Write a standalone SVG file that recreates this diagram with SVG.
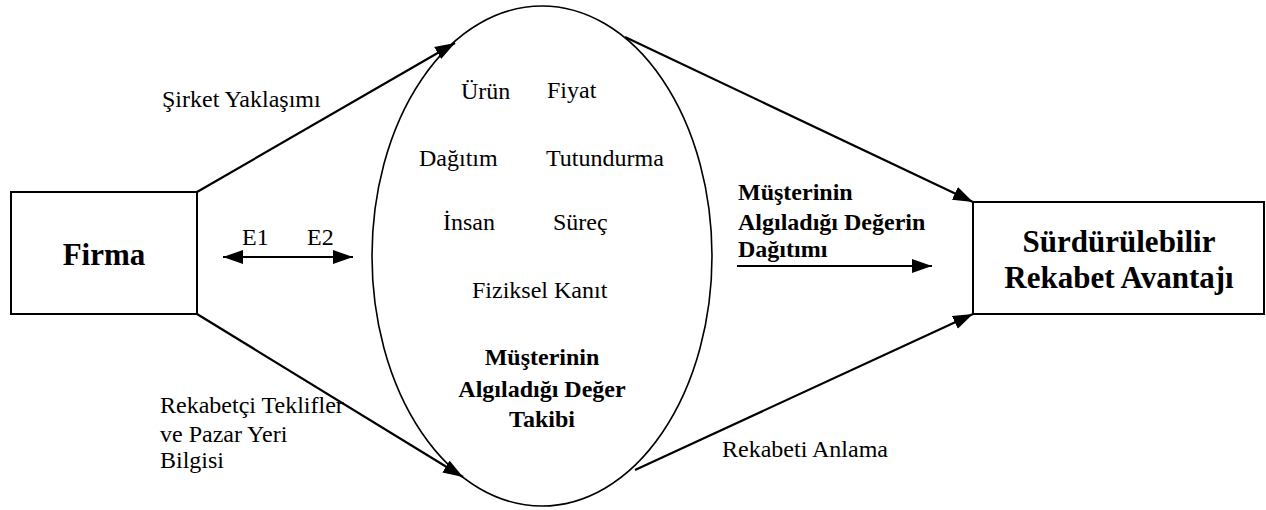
<svg xmlns="http://www.w3.org/2000/svg" width="1266" height="510" viewBox="0 0 1266 510" font-family="Liberation Serif, Times New Roman, serif">
  <style>
    .box { fill: #ffffff; stroke: #000000; stroke-width: 2; }
    .oval { fill: none; stroke: #000000; stroke-width: 1.6; }
    .link { fill: none; stroke: #000000; stroke-width: 2.2; }
    .t { font-size: 24px; fill: #000000; }
    .b { font-weight: bold; }
    .title { font-size: 31px; font-weight: bold; fill: #000000; }
  </style>
  <defs>
    <marker id="head" markerUnits="userSpaceOnUse" markerWidth="22" markerHeight="16" refX="20" refY="7" orient="auto-start-reverse" viewBox="0 0 22 16">
      <path d="M0,0 L20,7 L0,14 z" fill="#000000"/>
    </marker>
  </defs>

  <!-- central marketing-mix ellipse -->
  <g id="mix">
    <ellipse class="oval" cx="542" cy="256" rx="170" ry="250"/>
    <text class="t" x="461" y="99">Ürün</text>
    <text class="t" x="547" y="98">Fiyat</text>
    <text class="t" x="419" y="166">Dağıtım</text>
    <text class="t" x="546" y="166">Tutundurma</text>
    <text class="t" x="443" y="230">İnsan</text>
    <text class="t" x="553" y="230">Süreç</text>
    <text class="t" x="472" y="298">Fiziksel Kanıt</text>
    <text class="t b" text-anchor="middle" x="542" y="365">Müşterinin</text>
    <text class="t b" text-anchor="middle" x="542" y="397">Algıladığı Değer</text>
    <text class="t b" text-anchor="middle" x="542" y="427">Takibi</text>
  </g>

  <!-- firm box -->
  <g id="firma">
    <rect class="box" x="11" y="192" width="186" height="122"/>
    <text class="title" text-anchor="middle" x="104" y="265">Firma</text>
  </g>

  <!-- outcome box -->
  <g id="avantaj">
    <rect class="box" x="973" y="202" width="291" height="112"/>
    <text class="title" text-anchor="middle" x="1119" y="252">Sürdürülebilir</text>
    <text class="title" text-anchor="middle" x="1119" y="288">Rekabet Avantajı</text>
  </g>

  <!-- connectors -->
  <g id="connectors">
    <line class="link" x1="197" y1="192" x2="455" y2="43" marker-end="url(#head)"/>
    <line class="link" x1="197" y1="314" x2="463" y2="477" marker-end="url(#head)"/>
    <line class="link" x1="625" y1="37" x2="973" y2="202" marker-end="url(#head)"/>
    <line class="link" x1="635" y1="470" x2="973" y2="314" marker-end="url(#head)"/>
    <line class="link" x1="737" y1="266" x2="932" y2="266" marker-end="url(#head)"/>
    <line class="link" x1="223" y1="257" x2="353" y2="257" marker-start="url(#head)" marker-end="url(#head)"/>
  </g>

  <!-- connector labels -->
  <g id="labels">
    <text class="t" x="162" y="107">Şirket Yaklaşımı</text>
    <text class="t" x="242" y="245">E1</text>
    <text class="t" x="307" y="245">E2</text>
    <text class="t" x="160" y="413">Rekabetçi Teklifler</text>
    <text class="t" x="160" y="442">ve Pazar Yeri</text>
    <text class="t" x="160" y="468">Bilgisi</text>
    <text class="t" x="722" y="457">Rekabeti Anlama</text>
    <text class="t b" x="738" y="200">Müşterinin</text>
    <text class="t b" x="738" y="230">Algıladığı Değerin</text>
    <text class="t b" x="738" y="257">Dağıtımı</text>
  </g>
</svg>
